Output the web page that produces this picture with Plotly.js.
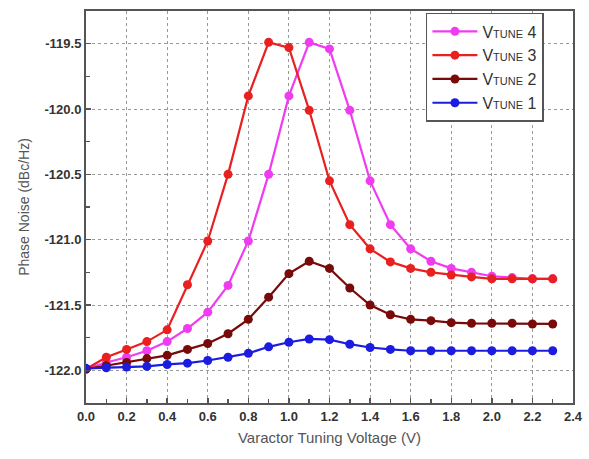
<!DOCTYPE html>
<html><head><meta charset="utf-8">
<script src="https://cdn.plot.ly/plotly-3.0.1.min.js"></script>
<style>html,body{margin:0;padding:0;background:#fff}#c{width:589px;height:459px}</style>
</head><body><div id="c"></div>
<script>
const voltage = [0.0,0.1,0.2,0.3,0.4,0.5,0.6,0.7,0.8,0.9,1.0,1.1,1.2,1.3,1.4,1.5,1.6,1.7,1.8,1.9,2.0,2.1,2.2,2.3];
const vtune4 = [-121.99,-121.94,-121.90,-121.85,-121.78,-121.68,-121.555,-121.35,-121.01,-120.50,-119.90,-119.49,-119.54,-120.01,-120.55,-120.885,-121.07,-121.165,-121.22,-121.25,-121.28,-121.29,-121.30,-121.30];
const vtune3 = [-121.99,-121.90,-121.84,-121.78,-121.69,-121.345,-121.01,-120.50,-119.90,-119.49,-119.53,-120.01,-120.55,-120.885,-121.07,-121.17,-121.22,-121.25,-121.27,-121.285,-121.30,-121.30,-121.30,-121.30];
const vtune2 = [-121.99,-121.965,-121.94,-121.91,-121.885,-121.84,-121.795,-121.72,-121.61,-121.44,-121.26,-121.165,-121.22,-121.37,-121.50,-121.575,-121.61,-121.62,-121.635,-121.64,-121.64,-121.64,-121.645,-121.645];
const vtune1 = [-121.985,-121.98,-121.975,-121.97,-121.955,-121.945,-121.925,-121.90,-121.87,-121.82,-121.785,-121.76,-121.765,-121.80,-121.825,-121.84,-121.85,-121.85,-121.85,-121.85,-121.85,-121.85,-121.85,-121.85];
const names = ['V<span style="font-size:11px">TUNE</span> 4','V<span style="font-size:11px">TUNE</span> 3','V<span style="font-size:11px">TUNE</span> 2','V<span style="font-size:11px">TUNE</span> 1'];
const colors = ['#f03cf0','#e82020','#780a0a','#1c1ce0'];
const xTicks = [0.0,0.2,0.4,0.6,0.8,1.0,1.2,1.4,1.6,1.8,2.0,2.2,2.4];
const xTickText = ['0.0','0.2','0.4','0.6','0.8','1.0','1.2','1.4','1.6','1.8','2.0','2.2','2.4'];
const yTicks = [-122.0,-121.5,-121.0,-120.5,-120.0,-119.5];
const yTickText = ['-122.0','-121.5','-121.0','-120.5','-120.0','-119.5'];

const series = [vtune4, vtune3, vtune2, vtune1];
const traces = series.map((s,i)=>({
  x: voltage, y: s, name: names[i], type:'scatter', mode:'lines+markers',
  line:{color:colors[i], width:2.2},
  marker:{color:colors[i], size:9}
}));
const layout = {
  width:589, height:459,
  margin:{l:86, r:16, t:11, b:56},
  paper_bgcolor:'#fff', plot_bgcolor:'#fff',
  showlegend:true,
  legend:{x:0.698, y:0.995, xanchor:'left', yanchor:'top', bgcolor:'#fff', bordercolor:'#555', borderwidth:1.5,
    font:{family:'Liberation Sans, Arial, sans-serif', size:16, color:'#333'}, itemwidth:45, tracegroupgap:0},
  xaxis:{range:[0,2.4], tickvals:xTicks, ticktext:xTickText, ticks:'inside', ticklen:5, tickwidth:1.5, tickcolor:'#555',
    minor:{dtick:0.1, tick0:0, ticks:'inside', ticklen:4, tickcolor:'#555', showgrid:false},
    showline:true, linecolor:'#555', linewidth:2, mirror:true, zeroline:false,
    showgrid:true, gridcolor:'#999', griddash:'dot', gridwidth:1,
    tickfont:{family:'Liberation Sans, Arial, sans-serif', size:13, color:'#333', weight:'bold'},
    title:{text:'Varactor Tuning Voltage (V)', font:{family:'Liberation Sans, Arial, sans-serif', size:15, color:'#555'}, standoff:10}},
  yaxis:{range:[-122.25,-119.25], tickvals:yTicks, ticktext:yTickText, ticks:'inside', ticklen:5, tickwidth:1.5, tickcolor:'#555',
    minor:{dtick:0.25, tick0:-122, ticks:'inside', ticklen:4, tickcolor:'#555', showgrid:false},
    showline:true, linecolor:'#555', linewidth:2, mirror:true, zeroline:false,
    showgrid:true, gridcolor:'#999', griddash:'dot', gridwidth:1,
    tickfont:{family:'Liberation Sans, Arial, sans-serif', size:13, color:'#333', weight:'bold'},
    title:{text:'Phase Noise (dBc/Hz)', font:{family:'Liberation Sans, Arial, sans-serif', size:14, color:'#555'}, standoff:12}}
};
Plotly.newPlot('c', traces, layout, {displayModeBar:false, staticPlot:true});
</script></body></html>
